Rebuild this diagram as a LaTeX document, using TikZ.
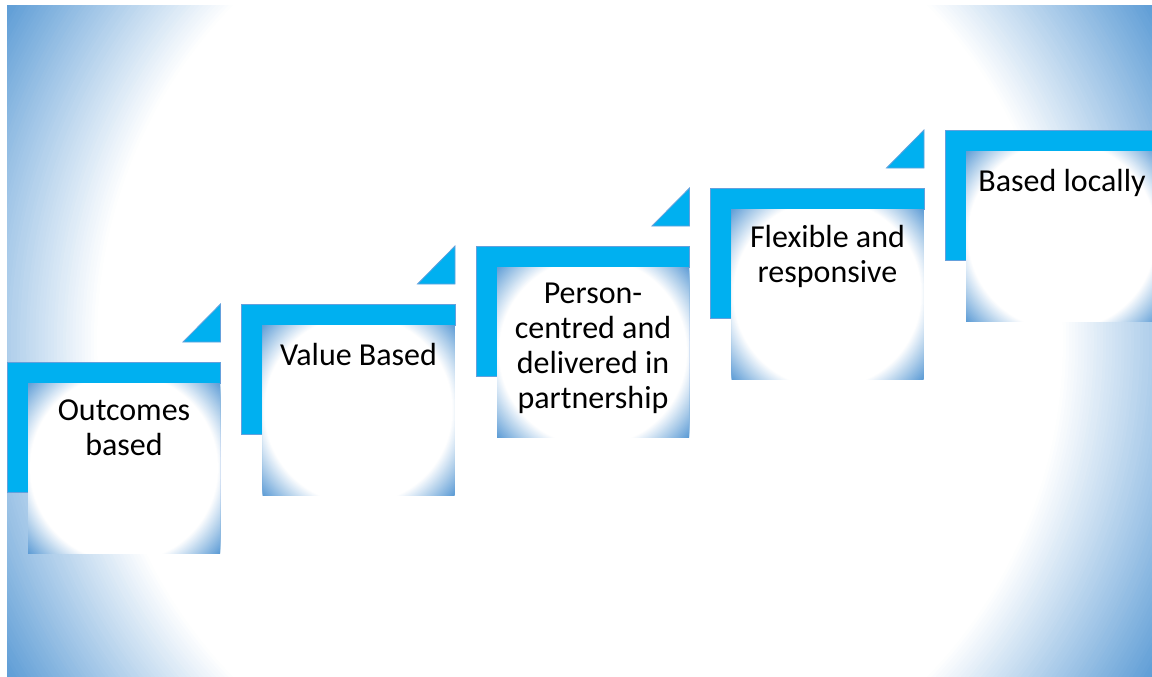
\documentclass[tikz,border=0pt]{standalone}
\usepackage{fontspec}
\setmainfont{Carlito}

\definecolor{stepcyan}{RGB}{0,176,240}
\definecolor{stepedge}{RGB}{100,160,220}
\definecolor{shadeblue}{RGB}{91,155,213}

\tikzset{
  stepfill/.style={fill=stepcyan, draw=stepedge, line width=0.8pt, line join=miter},
  steptext/.style={anchor=north, inner sep=0pt, align=center,
    font=\fontsize{32}{35}\selectfont, execute at begin node=\strut}
}

% white box with blue corners, top-left corner at (#1,#2)
\newcommand{\glowbox}[2]{%
  \begin{scope}[shift={(#1,#2)}]
    \clip (0,0) rectangle (192,170);
    \fill[shadeblue] (0,0) rectangle (192,170);
    \foreach \i in {0,...,40}{
      \pgfmathtruncatemacro{\pct}{100-\i*100/40}
      \pgfmathsetmacro{\rad}{129-\i*35/40}
      \fill[shadeblue!\pct!white] (96,85) circle (\rad);
    }
  \end{scope}}

\begin{document}
\begin{tikzpicture}[x=1pt,y=-1pt]
    \useasboundingbox (0,0) rectangle (1152,677);
    \clip (0,0) rectangle (1152,677);

    % Background
    \begin{scope}
        \clip (7,6) rectangle (1152,677);
        \fill[shadeblue] (7,6) rectangle (1152,677);
        \foreach \i in {0,...,60}{
            \pgfmathtruncatemacro{\pct}{100-\i*100/60}
            \pgfmathsetmacro{\rad}{668-\i*185/60}
            \fill[shadeblue!\pct!white] (580,341) circle (\rad);
        }
    \end{scope}

    % Step 1
    \draw[stepfill] (7,362) -- ++(213.5,0) -- ++(0,21) -- ++(-192.5,0) -- ++(0,109) -- ++(-21,0) -- cycle;
    \draw[stepfill] (183,342) -- ++(37.5,0) -- ++(0,-38) -- cycle;
    \glowbox{28}{383}
    \node[steptext] (outcomes) at (124,400) {Outcomes\\based};

    % Step 2
    \draw[stepfill] (241.5,304) -- ++(213.5,0) -- ++(0,21) -- ++(-192.5,0) -- ++(0,109) -- ++(-21,0) -- cycle;
    \draw[stepfill] (417.5,284) -- ++(37.5,0) -- ++(0,-38) -- cycle;
    \glowbox{262.5}{325}
    \node[steptext] (value) at (358.5,341) {Value Based};

    % Step 3
    \draw[stepfill] (476,246) -- ++(213.5,0) -- ++(0,21) -- ++(-192.5,0) -- ++(0,109) -- ++(-21,0) -- cycle;
    \draw[stepfill] (652,226) -- ++(37.5,0) -- ++(0,-38) -- cycle;
    \glowbox{497}{267}
    \node[steptext] (person) at (593,283) {Person-\\centred and\\delivered in\\partnership};

    % Step 4
    \draw[stepfill] (710.5,188) -- ++(213.5,0) -- ++(0,21) -- ++(-192.5,0) -- ++(0,109) -- ++(-21,0) -- cycle;
    \draw[stepfill] (886.5,168) -- ++(37.5,0) -- ++(0,-38) -- cycle;
    \glowbox{731.5}{209}
    \node[steptext] (flexible) at (827.5,225) {Flexible and\\responsive};

    % Step 5 (no triangle)
    \draw[stepfill] (945,130) -- ++(213.5,0) -- ++(0,21) -- ++(-192.5,0) -- ++(0,109) -- ++(-21,0) -- cycle;
    \glowbox{966}{151}
    \node[steptext] (locally) at (1062,167) {Based locally};
\end{tikzpicture}
\end{document}
